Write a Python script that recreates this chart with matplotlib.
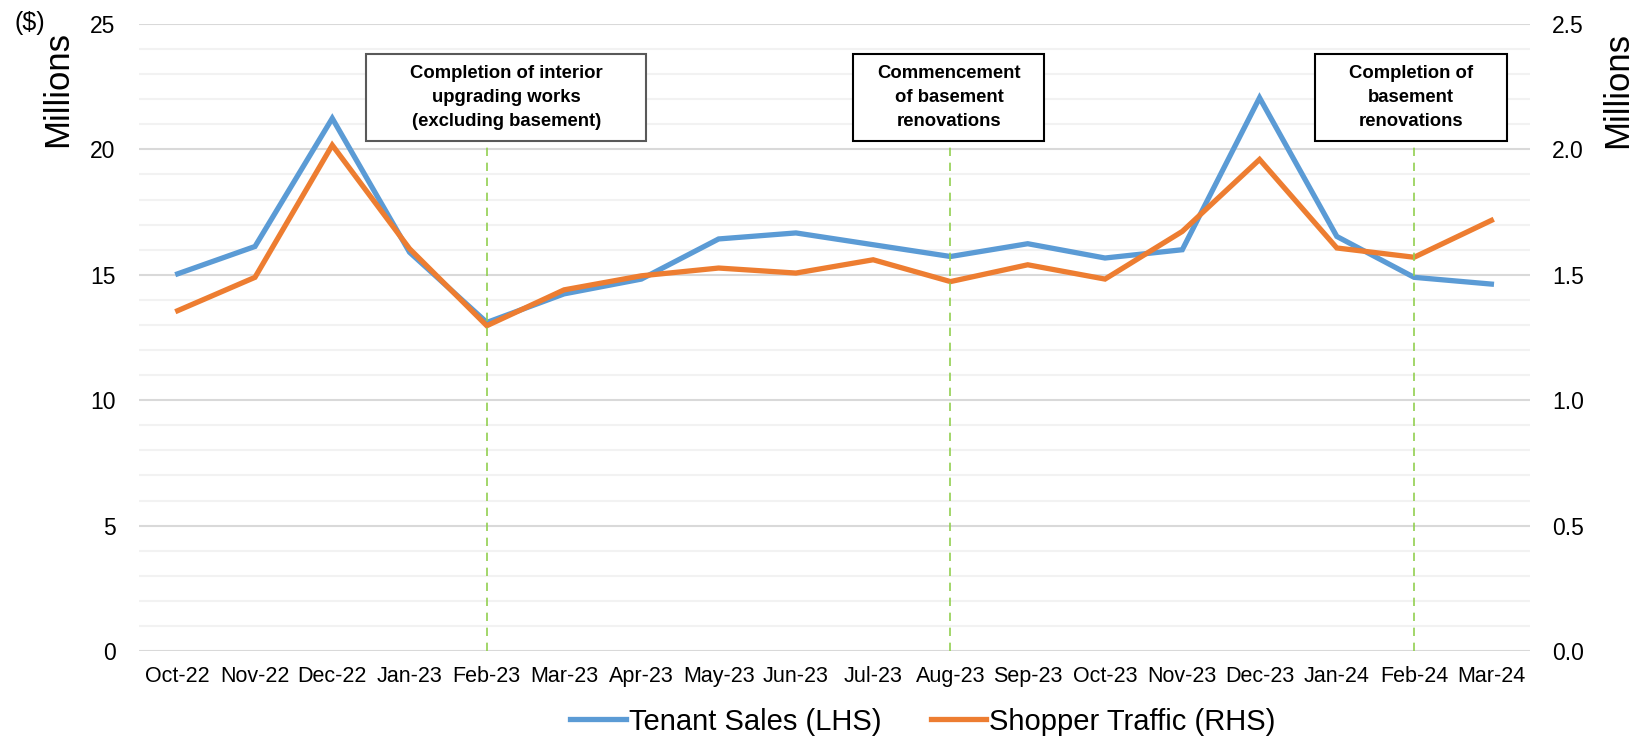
import matplotlib.pyplot as plt
from matplotlib.patches import Rectangle

plt.rcParams['font.family'] = ['Liberation Sans', 'DejaVu Sans']

months = ['Oct-22', 'Nov-22', 'Dec-22', 'Jan-23', 'Feb-23', 'Mar-23', 'Apr-23', 'May-23', 'Jun-23',
          'Jul-23', 'Aug-23', 'Sep-23', 'Oct-23', 'Nov-23', 'Dec-23', 'Jan-24', 'Feb-24', 'Mar-24']
# tenant sales, $ millions (left axis)
tenant_sales = [15.04, 16.13, 21.24, 15.9, 13.1, 14.24, 14.83, 16.43, 16.67,
                16.2, 15.73, 16.24, 15.67, 16.0, 22.06, 16.53, 14.9, 14.63]
# shopper traffic, millions (right axis)
shopper_traffic = [1.357, 1.49, 2.017, 1.604, 1.297, 1.44, 1.496, 1.527, 1.507,
                   1.56, 1.473, 1.54, 1.483, 1.673, 1.96, 1.607, 1.57, 1.717]

event_months = ['Feb-23', 'Aug-23', 'Feb-24']
event_labels = ['Completion of interior\nupgrading works\n(excluding basement)',
                'Commencement\nof basement\nrenovations',
                'Completion of\nbasement\nrenovations']

blue = '#5B9BD5'
orange = '#ED7D31'
green = '#92D050'

fig = plt.figure(figsize=(16.42, 7.37), dpi=100)
ax = fig.add_axes([0.0847, 0.1167, 0.8471, 0.8507])
ax2 = ax.twinx()

x = list(range(len(months)))
ax.plot(x, tenant_sales, color=blue, lw=3.8, solid_joinstyle='miter', label='Tenant Sales (LHS)')
ax2.plot(x, shopper_traffic, color=orange, lw=3.8, solid_joinstyle='miter', label='Shopper Traffic (RHS)')

ax.set_xlim(-0.5, len(months) - 0.5)
ax.set_ylim(0, 25)
ax2.set_ylim(0, 2.5)
ax.set_yticks(range(0, 26, 5))
ax.set_yticks(range(0, 26, 1), minor=True)
ax2.set_yticks([0, 0.5, 1.0, 1.5, 2.0, 2.5])
ax2.set_yticklabels(['0.0', '0.5', '1.0', '1.5', '2.0', '2.5'])
ax.set_xticks(x)
ax.set_xticklabels(months)

ax.grid(axis='y', which='major', color='#D9D9D9', lw=1.5)
ax.grid(axis='y', which='minor', color='#F2F2F2', lw=1.5)
ax.set_axisbelow(True)

for a in (ax, ax2):
    for s in a.spines.values():
        s.set_visible(False)
    a.tick_params(length=0, which='both')
ax.tick_params(axis='y', labelsize=16.5, pad=17)
ax.tick_params(axis='x', labelsize=15.5, pad=11)
ax2.tick_params(axis='y', labelsize=16.5, pad=16)

# event markers: dashed line up to a labelled box
box_shift = [0.25, -0.02, -0.04]
box_half = [1.81, 1.235, 1.245]
box_bottom, box_top = 20.32, 23.8
for m, txt, dx, hw in zip(event_months, event_labels, box_shift, box_half):
    xi = months.index(m)
    ax2.vlines(xi, 0, box_bottom, colors=green, lw=1.2, linestyles=(0, (5, 4)),
               transform=ax.transData, zorder=4)
    edge = '#595959' if hw > 1.5 else 'black'
    cx = xi + dx
    ax2.add_patch(Rectangle((cx - hw, box_bottom), 2 * hw, box_top - box_bottom,
                            facecolor='white', edgecolor=edge, lw=1.5,
                            transform=ax.transData, zorder=5))
    ax2.text(cx, (box_bottom + box_top) / 2, txt, ha='center', va='center',
             fontsize=13.3, fontweight='bold', linespacing=1.55,
             transform=ax.transData, zorder=6)

fig.text(0.035, 0.879, 'Millions', rotation=90, ha='center', va='center', fontsize=25)
fig.text(0.985, 0.878, 'Millions', rotation=90, ha='center', va='center', fontsize=25)
fig.text(0.018, 0.969, '($)', ha='center', va='center', fontsize=18)

h1, l1 = ax.get_legend_handles_labels()
h2, l2 = ax2.get_legend_handles_labels()
fig.legend(h1 + h2, l1 + l2, loc='center', bbox_to_anchor=(0.562, 0.021), ncol=2,
           frameon=False, fontsize=21,
           handlelength=1.9, handletextpad=0.1, columnspacing=1.7, borderpad=0)

fig.savefig('out.png', dpi=100)
